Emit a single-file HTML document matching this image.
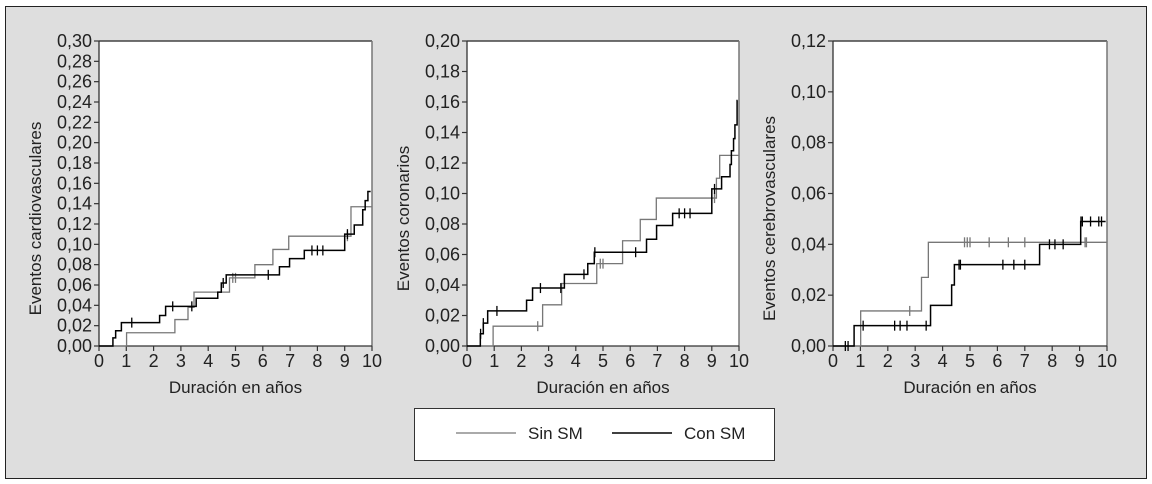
<!DOCTYPE html>
<html><head><meta charset="utf-8">
<style>
html,body{margin:0;padding:0;background:#fff;}
svg{display:block;font-family:"Liberation Sans",sans-serif;}
</style></head>
<body>
<svg id="chart" width="1152" height="484" xmlns="http://www.w3.org/2000/svg">
<rect x="5.5" y="6.5" width="1141" height="472" fill="#dedede" stroke="#222" stroke-width="1"/>
<g id="plots"></g>
<g>
<rect x="414.5" y="408.5" width="360" height="52" fill="#fff" stroke="#333"/>
<line x1="456" y1="433" x2="516" y2="433" stroke="#777" stroke-width="1.3"/>
<text x="528" y="439" font-size="17" fill="#222">Sin SM</text>
<line x1="612" y1="433" x2="672" y2="433" stroke="#000" stroke-width="1.5"/>
<text x="684" y="439" font-size="17" fill="#222">Con SM</text>
</g>
</svg>
<script>
// ---- Panel 1: cardiovascular ----
const p1ConTimes=[0.51,0.61,0.82,2.22,2.44,3.56,4.35,4.48,4.66,6.61,6.98,7.52,9.0,9.35,9.66,9.75,9.85];
const p1ConVals=[0.008,0.015,0.023,0.030,0.039,0.047,0.053,0.062,0.070,0.078,0.086,0.094,0.110,0.119,0.134,0.143,0.152];
const p1ConCensT=[1.2,2.7,3.4,4.55,6.2,7.8,8.0,8.2,9.1];
const p1SinTimes=[1.01,2.78,3.26,3.48,4.78,5.71,6.37,6.95,9.23];
const p1SinVals=[0.013,0.026,0.038,0.053,0.067,0.080,0.095,0.108,0.137];
const p1SinCensT=[4.9,5.0,9.1];
// ---- Panel 2: coronary ----
const p2ConTimes=[0.49,0.6,0.76,2.19,2.41,3.58,4.44,4.68,6.6,6.97,7.56,9.0,9.36,9.67,9.72,9.8,9.85,9.93];
const p2ConVals=[0.008,0.015,0.023,0.030,0.038,0.047,0.054,0.0615,0.070,0.079,0.087,0.103,0.111,0.119,0.128,0.136,0.145,0.161];
const p2ConCensT=[0.5,0.6,1.1,2.7,3.45,4.3,4.7,6.2,7.8,8.0,8.2,9.1];
const p2SinTimes=[0.96,2.78,3.48,4.77,5.72,6.37,6.96,9.17,9.29];
const p2SinVals=[0.013,0.027,0.041,0.054,0.069,0.083,0.097,0.110,0.125];
const p2SinCensT=[2.6,4.9,5.0,9.1];
// ---- Panel 3: cerebrovascular ----
const p3ConTimes=[0.77,3.56,4.33,4.43,7.54,9.04];
const p3ConVals=[0.008,0.016,0.024,0.032,0.040,0.049];
const p3ConCensT=[0.45,0.55,1.1,2.25,2.45,2.7,3.4,4.6,4.65,6.2,6.6,7.0,7.9,8.1,8.4,9.05,9.1,9.4,9.7,9.8];
const p3SinTimes=[1.01,3.23,3.48];
const p3SinVals=[0.0138,0.027,0.0408];
const p3SinCensT=[2.8,4.8,4.9,5.0,5.7,6.4,7.0,9.2,9.25];
const xTicks=[0,1,2,3,4,5,6,7,8,9,10];
const p1YTicks=["0,00","0,02","0,04","0,06","0,08","0,10","0,12","0,14","0,16","0,18","0,20","0,22","0,24","0,26","0,28","0,30"];
const p2YTicks=["0,00","0,02","0,04","0,06","0,08","0,10","0,12","0,14","0,16","0,18","0,20"];
const p3YTicks=["0,00","0,02","0,04","0,06","0,08","0,10","0,12"];

const NS="http://www.w3.org/2000/svg";
const root=document.getElementById('plots');
function mk(tag,attrs,parent){const e=document.createElementNS(NS,tag);for(const k in attrs)e.setAttribute(k,attrs[k]);parent.appendChild(e);return e;}

function panel(id,x0,x1,ymax,yTicks,title,con,sin,endCon,endSin){
  const y0=346,y1=41;
  const g=mk('g',{},root);
  
  
  const sx=v=>x0+(x1-x0)*v/10;
  const sy=v=>y0-(y0-y1)*v/ymax;
  const bg=mk('rect',{x:x0,y:y1,width:x1-x0,height:y0-y1,fill:'#fff'},g);
  
  
  mk('line',{x1:x0,y1:y1,x2:x1,y2:y1,stroke:'#444','stroke-width':1.5},g);
  mk('line',{x1:x1,y1:y1,x2:x1,y2:y0,stroke:'#777','stroke-width':1.5},g);
  const ax=mk('line',{x1:x0,y1:y1,x2:x0,y2:y0,stroke:'#333','stroke-width':1.3},g);
  
  
  const axx=mk('line',{x1:x0,y1:y0,x2:x1,y2:y0,stroke:'#333','stroke-width':1.3},g);
  
  
  yTicks.forEach((lab,i)=>{
    const v=ymax*i/(yTicks.length-1);const y=sy(v);
    mk('line',{x1:x0-5,y1:y,x2:x0,y2:y,stroke:'#333','stroke-width':1.2},g);
    const t=mk('text',{x:x0-7,y:y+6,'font-size':18,'text-anchor':'end',fill:'#222'},g);
    t.textContent=lab;
    
    
  });
  xTicks.forEach(v=>{
    const x=sx(v);
    mk('line',{x1:x,y1:y0,x2:x,y2:y0+5,stroke:'#333','stroke-width':1.2},g);
    const t=mk('text',{x:x,y:y0+21,'font-size':18,'text-anchor':'middle',fill:'#222'},g);
    t.textContent=v;
    
    
  });
  const xt=mk('text',{x:(x0+x1)/2,y:y0+47,'font-size':17,'text-anchor':'middle',fill:'#222'},g);
  xt.textContent='Duración en años';
  
  
  const yt=mk('text',{x:0,y:0,'font-size':17,'text-anchor':'middle',fill:'#222',transform:`translate(${x0-58},${(y0+y1)/2+25}) rotate(-90)`},g);
  yt.textContent=title;
  
  
  function series(times,vals,cens,end,color,w,name){
    let d=`M${sx(0)},${sy(0)}`;
    times.forEach((t,i)=>{d+=` H${sx(t)} V${sy(vals[i])}`;});
    d+=` H${sx(end)}`;
    const p=mk('path',{d:d,fill:'none',stroke:color,'stroke-width':w},g);
    
    
    cens.forEach(t=>{
      let v=0;times.forEach((tt,i)=>{if(tt<=t)v=vals[i];});
      const c=mk('line',{x1:sx(t),y1:sy(v)-5,x2:sx(t),y2:sy(v)+5,stroke:color,'stroke-width':1.3},g);
      
      
    });
  }
  series(sin[0],sin[1],sin[2],endSin,'#777',1.3,'sin-sm');
  series(con[0],con[1],con[2],endCon,'#000',1.5,'con-sm');
}
panel('cardiovascular',99,372,0.30,p1YTicks,'Eventos cardiovasculares',[p1ConTimes,p1ConVals,p1ConCensT],[p1SinTimes,p1SinVals,p1SinCensT],9.95,10);
panel('coronary',467,739,0.20,p2YTicks,'Eventos coronarios',[p2ConTimes,p2ConVals,p2ConCensT],[p2SinTimes,p2SinVals,p2SinCensT],9.95,10);
panel('cerebrovascular',833,1107,0.12,p3YTicks,'Eventos cerebrovasculares',[p3ConTimes,p3ConVals,p3ConCensT],[p3SinTimes,p3SinVals,p3SinCensT],9.95,10);
</script>
</body></html>
